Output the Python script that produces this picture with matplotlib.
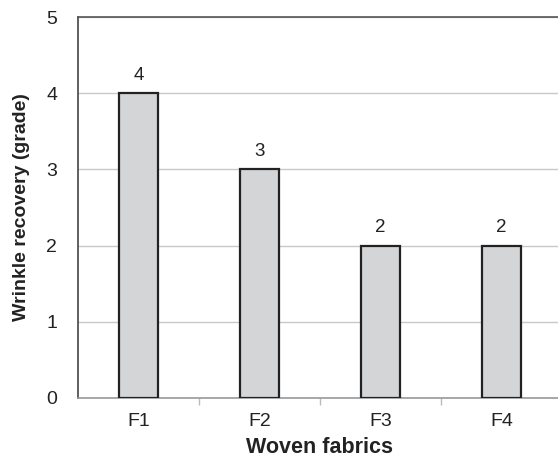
import matplotlib
matplotlib.use('Agg')
import matplotlib.pyplot as plt

plt.rcParams['font.family'] = ['Liberation Sans', 'DejaVu Sans']

fabrics = ['F1', 'F2', 'F3', 'F4']
grades = [4, 3, 2, 2]

fig = plt.figure(figsize=(5.58, 4.59), dpi=100)
# axes run a little past the right edge, as in the reference
ax = fig.add_axes([78 / 558, 61 / 459, 484 / 558, 381 / 459])

x = list(range(len(fabrics)))
ax.bar(x, grades, width=0.32, color='#d4d5d7', edgecolor='#222222',
       linewidth=1.6, zorder=3)

for xi, g in zip(x, grades):
    ax.text(xi, g + 0.12, str(g), ha='center', va='bottom', fontsize=13.5,
            color='#222222')

ax.set_xlim(-0.5, 3.5)
ax.set_ylim(0, 5)
ax.set_yticks([0, 1, 2, 3, 4, 5])
ax.set_xticks(x)
ax.set_xticklabels(fabrics)
ax.set_xticks([0.5, 1.5, 2.5], minor=True)
ax.tick_params(axis='x', which='major', length=0, pad=11, labelsize=14,
               colors='#222222')
ax.tick_params(axis='x', which='minor', length=5, width=1, color='#bbbbbb')
ax.tick_params(axis='y', length=0, pad=15, labelsize=14, colors='#222222')

ax.grid(axis='y', color='#c8c8c8', linewidth=1, zorder=0)

ax.spines['left'].set_color('#444444')
ax.spines['left'].set_linewidth(1.2)
ax.spines['top'].set_color('#555555')
ax.spines['top'].set_linewidth(1.2)
ax.spines['bottom'].set_color('#999999')
ax.spines['bottom'].set_linewidth(1.2)
ax.spines['right'].set_visible(False)

ax.set_xlabel('Woven fabrics', fontsize=15.5, fontweight='bold',
              color='#222222', labelpad=5)
ax.set_ylabel('Wrinkle recovery (grade)', fontsize=14, fontweight='bold',
              color='#222222')
ax.yaxis.set_label_coords(-0.1, 0.5)

fig.savefig('out.png', dpi=100)
